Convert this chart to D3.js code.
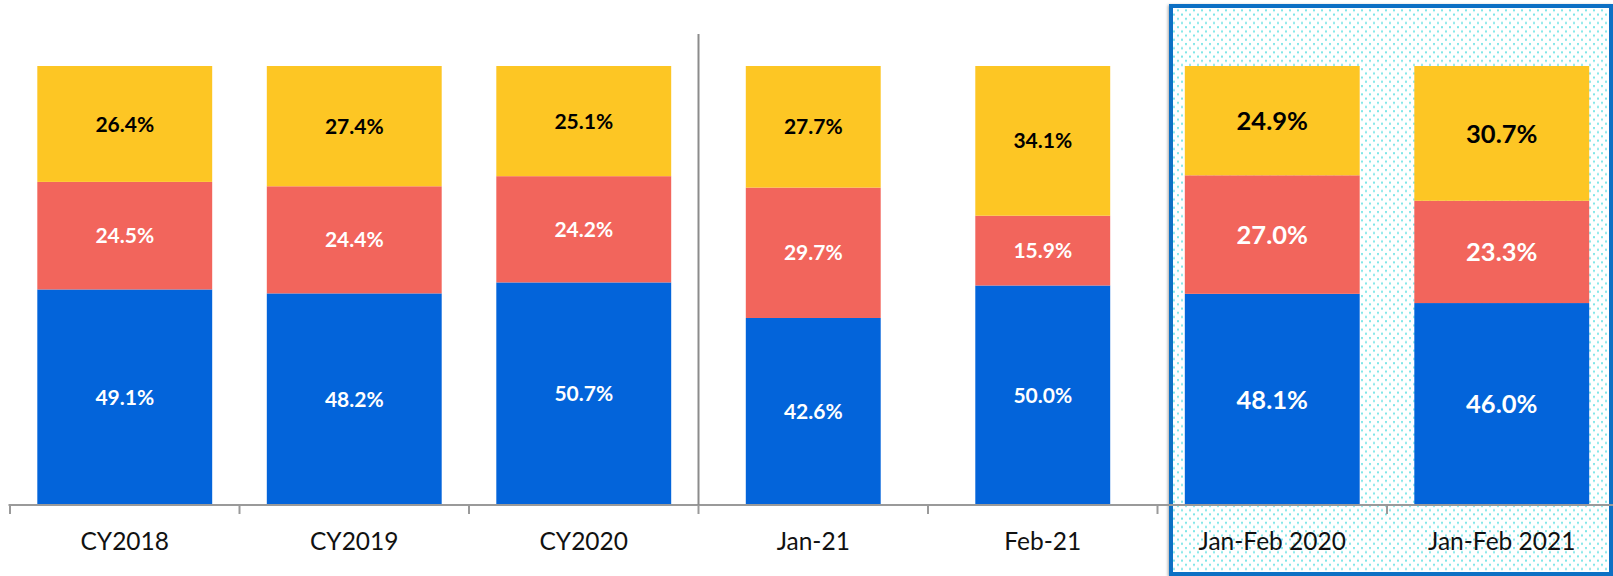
<!DOCTYPE html>
<html>
<head>
<meta charset="utf-8">
<script src="https://cdn.jsdelivr.net/npm/d3@7"></script>
<style>
  html, body { margin: 0; padding: 0; background: #fff; }
  svg { display: block; }
</style>
</head>
<body>
<svg id="chart" width="1613" height="576"></svg>
<script>
// ---- data ----
const categories = ["CY2018", "CY2019", "CY2020", "Jan-21", "Feb-21", "Jan-Feb 2020", "Jan-Feb 2021"];
const groupOf    = ["annual", "annual", "annual", "monthly", "monthly", "ytd", "ytd"];
const seriesNames = ["bottom", "middle", "top"];
const bottomValues = [49.1, 48.2, 50.7, 42.6, 50.0, 48.1, 46.0];
const middleValues = [24.5, 24.4, 24.2, 29.7, 15.9, 27.0, 23.3];
const topValues    = [26.4, 27.4, 25.1, 27.7, 34.1, 24.9, 30.7];

// ---- styles ----
const colors = { bottom: "#0364DA", middle: "#F2655C", top: "#FDC624" };
const labelColors = { bottom: "#ffffff", middle: "#ffffff", top: "#000000" };
const font = "Lato, 'Open Sans', sans-serif";

const svg = d3.select("#chart");
const W = 1613, H = 576;
const x0 = 10, step = 229.5;
const baseY = 505, topY = 66;

const x = d3.scaleBand()
  .domain(categories)
  .range([x0, x0 + step * categories.length])
  .paddingInner(0.238)
  .paddingOuter(0.119);

const y = d3.scaleLinear().domain([0, 100]).range([baseY, topY]);

const rows = categories.map((c, i) => ({
  cat: c, group: groupOf[i],
  bottom: bottomValues[i], middle: middleValues[i], top: topValues[i]
}));
const stack = d3.stack().keys(seriesNames)(rows);

// ---- defs: dotted pattern + shadow ----
const defs = svg.append("defs");
const pat = defs.append("pattern")
  .attr("id", "dots").attr("patternUnits", "userSpaceOnUse")
  .attr("width", 8).attr("height", 8.4);
pat.append("rect").attr("width", 8).attr("height", 8.4).attr("fill", "#ffffff");
pat.append("rect").attr("x", 1).attr("y", 1).attr("width", 2).attr("height", 2).attr("fill", "#7FE6E8");
pat.append("rect").attr("x", 5).attr("y", 5.2).attr("width", 2).attr("height", 2).attr("fill", "#7FE6E8");
const flt = defs.append("filter").attr("id", "shadow")
  .attr("x", "-5%").attr("y", "-5%").attr("width", "110%").attr("height", "110%");
flt.append("feDropShadow").attr("dx", -1).attr("dy", 1).attr("stdDeviation", 1.5)
  .attr("flood-color", "#000").attr("flood-opacity", 0.35);

// ---- highlight box behind the last group ----
const ytdCats = categories.filter((c, i) => groupOf[i] === "ytd");
const boxLeft = x(ytdCats[0]) - x.step() * x.paddingInner() / 2 + 13.5;
svg.append("rect")
  .attr("x", boxLeft).attr("y", 6)
  .attr("width", W - 2 - boxLeft).attr("height", H - 2 - 6)
  .attr("fill", "url(#dots)")
  .attr("stroke", "#0B70C4").attr("stroke-width", 4)
  .attr("filter", "url(#shadow)");

// ---- bars ----
function barWidth(d) {
  return d.data.group === "monthly" ? x.bandwidth() * 135 / 175 : x.bandwidth();
}
function barX(d) {
  return x(d.data.cat) + (x.bandwidth() - barWidth(d)) / 2;
}

const layers = svg.append("g").selectAll("g")
  .data(stack).join("g")
  .attr("fill", s => colors[s.key]);

layers.selectAll("rect")
  .data(s => s)
  .join("rect")
  .attr("x", barX)
  .attr("width", barWidth)
  .attr("y", d => y(d[1]))
  .attr("height", d => y(d[0]) - y(d[1]));

// ---- data labels ----
const labelG = svg.append("g").attr("font-family", font).attr("font-weight", 700)
  .attr("text-anchor", "middle");
stack.forEach(s => {
  labelG.selectAll(null)
    .data(s)
    .join("text")
    .attr("x", d => x(d.data.cat) + x.bandwidth() / 2)
    .attr("y", d => (y(d[0]) + y(d[1])) / 2)
    .attr("dy", "0.36em")
    .attr("font-size", d => d.data.group === "ytd" ? 25.5 : 21)
    .attr("fill", labelColors[s.key])
    .text(d => d3.format(".1f")(d[1] - d[0]) + "%");
});

// ---- axis ----
const axisG = svg.append("g").attr("transform", `translate(0,${baseY})`);
axisG.append("line")
  .attr("x1", x0 - 1.5).attr("x2", W)
  .attr("y1", 0).attr("y2", 0)
  .attr("stroke", "#9a9a9a").attr("stroke-width", 2);
const boundaries = d3.range(categories.length + 1).map(i => x0 + i * x.step());
axisG.selectAll("line.tick")
  .data(boundaries).join("line").attr("class", "tick")
  .attr("x1", d => d).attr("x2", d => d)
  .attr("y1", 0).attr("y2", 9)
  .attr("stroke", "#9a9a9a").attr("stroke-width", 2);

axisG.selectAll("text")
  .data(categories).join("text")
  .attr("x", d => x(d) + x.bandwidth() / 2)
  .attr("y", 45)
  .attr("text-anchor", "middle")
  .attr("font-family", font)
  .attr("font-size", 24.5)
  .attr("fill", "#111")
  .text(d => d);

// ---- separator between annual and monthly groups ----
const firstMonthly = categories[groupOf.indexOf("monthly")];
const sepX = x(firstMonthly) - x.step() * x.paddingInner() / 2;
svg.append("line")
  .attr("x1", sepX).attr("x2", sepX)
  .attr("y1", 34).attr("y2", baseY)
  .attr("stroke", "#8c8c8c").attr("stroke-width", 2);
</script>
</body>
</html>
